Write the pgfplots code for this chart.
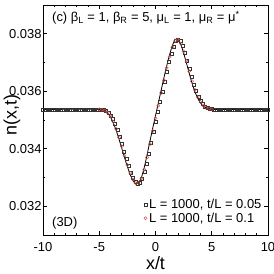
\documentclass[border=0pt]{standalone}
\usepackage{fontspec}
\setmainfont{Liberation Sans}
\usepackage{pgfplots}
\pgfplotsset{compat=1.18}
\usepackage{pgfplotstable}

\pgfplotstableread{
u d
-10 0
-5.00 0
-4.75 -0.01
-4.50 -0.05
-4.25 -0.13
-4.00 -0.27
-3.75 -0.47
-3.50 -0.73
-3.25 -1.03
-3.00 -1.35
-2.75 -1.68
-2.50 -1.99
-2.25 -2.27
-2.00 -2.48
-1.75 -2.59
-1.50 -2.55
-1.25 -2.36
-1.00 -2.02
-0.75 -1.58
-0.50 -1.12
-0.25 -0.66
0.00 -0.22
0.25 0.22
0.50 0.66
0.75 1.10
1.00 1.52
1.25 1.90
1.50 2.22
1.75 2.43
2.00 2.43
2.25 2.25
2.50 1.96
2.75 1.61
3.00 1.25
3.25 0.91
3.50 0.62
3.75 0.39
4.00 0.22
4.25 0.11
4.50 0.05
4.75 0.015
5.00 0
10 0
}\exact

\pgfplotstableread{
u d
-10.0 0
-9.8 0
-9.6 0
-9.4 0
-9.2 0
-9.0 0
-8.8 0
-8.6 0
-8.4 0
-8.2 0
-8.0 0
-7.8 0
-7.6 0
-7.4 0
-7.2 0
-7.0 0
-6.8 0
-6.6 0
-6.4 0
-6.2 0
-6.0 0
-5.8 0
-5.6 0
-5.4 0
-5.2 0
-5.0 0
-4.8 -0.003
-4.6 -0.015
-4.4 -0.047
-4.2 -0.108
-4.0 -0.203
-3.8 -0.334
-3.6 -0.501
-3.4 -0.709
-3.2 -0.946
-3.0 -1.196
-2.8 -1.456
-2.6 -1.717
-2.4 -1.965
-2.2 -2.192
-2.0 -2.379
-1.8 -2.515
-1.6 -2.585
-1.4 -2.553
-1.2 -2.413
-1.0 -2.183
-0.8 -1.879
-0.6 -1.525
-0.4 -1.157
-0.2 -0.789
0.0 -0.431
0.2 -0.079
0.4 0.273
0.6 0.625
0.8 0.977
1.0 1.318
1.2 1.642
1.4 1.938
1.6 2.194
1.8 2.371
2.0 2.420
2.2 2.372
2.4 2.215
2.6 1.983
2.8 1.708
3.0 1.423
3.2 1.141
3.4 0.875
3.6 0.643
3.8 0.454
4.0 0.302
4.2 0.185
4.4 0.103
4.6 0.055
4.8 0.025
5.0 0.008
5.2 0
5.4 0
5.6 0
5.8 0
6.0 0
6.2 0
6.4 0
6.6 0
6.8 0
7.0 0
7.2 0
7.4 0
7.6 0
7.8 0
8.0 0
8.2 0
8.4 0
8.6 0
8.8 0
9.0 0
9.2 0
9.4 0
9.6 0
9.8 0
10.0 0
}\squares

\pgfplotstableread{
u d
-5.00 0
-4.75 -0.008
-4.50 -0.042
-4.25 -0.114
-4.00 -0.242
-3.75 -0.430
-3.50 -0.678
-3.25 -0.970
-3.00 -1.286
-2.75 -1.614
-2.50 -1.928
-2.25 -2.214
-2.00 -2.438
-1.75 -2.568
-1.50 -2.558
-1.25 -2.398
-1.00 -2.088
-0.75 -1.668
-0.50 -1.212
-0.25 -0.752
0.00 -0.308
0.25 0.132
0.50 0.572
0.75 1.012
1.00 1.436
1.25 1.824
1.50 2.156
1.75 2.388
2.00 2.430
2.25 2.286
2.50 2.018
2.75 1.680
3.00 1.322
3.25 0.978
3.50 0.678
3.75 0.436
4.00 0.254
4.25 0.132
4.50 0.062
4.75 0.022
5.00 0.003
}\circles

\definecolor{redm}{RGB}{205,70,55}

\begin{document}
\begin{tikzpicture}
\begin{axis}[
  name=ax,
  width=225bp, height=230bp, scale only axis,
  xmin=-10, xmax=10, ymin=0.031, ymax=0.039,
  xtick={-10,-5,0,5,10},
  ytick={0.032,0.034,0.036,0.038},
  minor x tick num=4, minor y tick num=1,
  tick align=inside,
  major tick length=4bp, minor tick length=2.2bp,
  scaled y ticks=false,
  yticklabel style={/pgf/number format/fixed, /pgf/number format/precision=3, /pgf/number format/fixed zerofill, xshift=2bp},
  xticklabel style={yshift=-4bp},
  /pgf/number format/assume math mode=true,
  tick label style={font=\fontsize{13}{15}\selectfont},
  xlabel={x/t}, ylabel={n(x,t)},
  label style={font=\fontsize{18}{21}\selectfont},
  xlabel style={at={(axis description cs:0.5,0)}, anchor=center, yshift=-28bp},
  ylabel style={at={(axis description cs:0,0.52)}, anchor=center, yshift=31bp},
  axis line style={line width=0.8pt},
  every tick/.style={black, line width=0.6pt},
  legend style={draw=none, fill=none, at={(0.985,0.035)}, anchor=south east,
    font=\fontsize{13}{15}\selectfont, row sep=-1.5bp, inner sep=1bp},
  legend cell align=left,
]
\addplot[only marks, mark=square, mark size=1.5bp, black!80, line width=0.4pt]
  table[x=u, y expr=0.03537+\thisrow{d}*0.001] {\squares};
\addlegendentry{L = 1000, t/L = 0.05}
\addplot[only marks, mark=o, mark size=1.6bp, redm, line width=0.4pt]
  table[x=u, y expr=0.03537+\thisrow{d}*0.001] {\circles};
\addlegendentry{L = 1000, t/L = 0.1}
\addplot[black, line width=0.8pt, smooth, forget plot]
  table[x=u, y expr=0.03537+\thisrow{d}*0.001] {\exact};
\node[anchor=north west, font=\fontsize{13}{15}\selectfont, inner sep=0pt] at (rel axis cs:0.04,0.975)
  {(c) β\textsubscript{L} = 1, β\textsubscript{R} = 5, μ\textsubscript{L} = 1, μ\textsubscript{R} = μ\textsuperscript{*}};
\node[anchor=south west, font=\fontsize{13}{15}\selectfont, inner sep=0pt] at (rel axis cs:0.04,0.025) {(3D)};
\end{axis}
\pgfresetboundingbox
\path ([xshift=-43bp,yshift=-39bp]ax.south west) rectangle ([xshift=6bp,yshift=5bp]ax.north east);
\end{tikzpicture}
\end{document}
